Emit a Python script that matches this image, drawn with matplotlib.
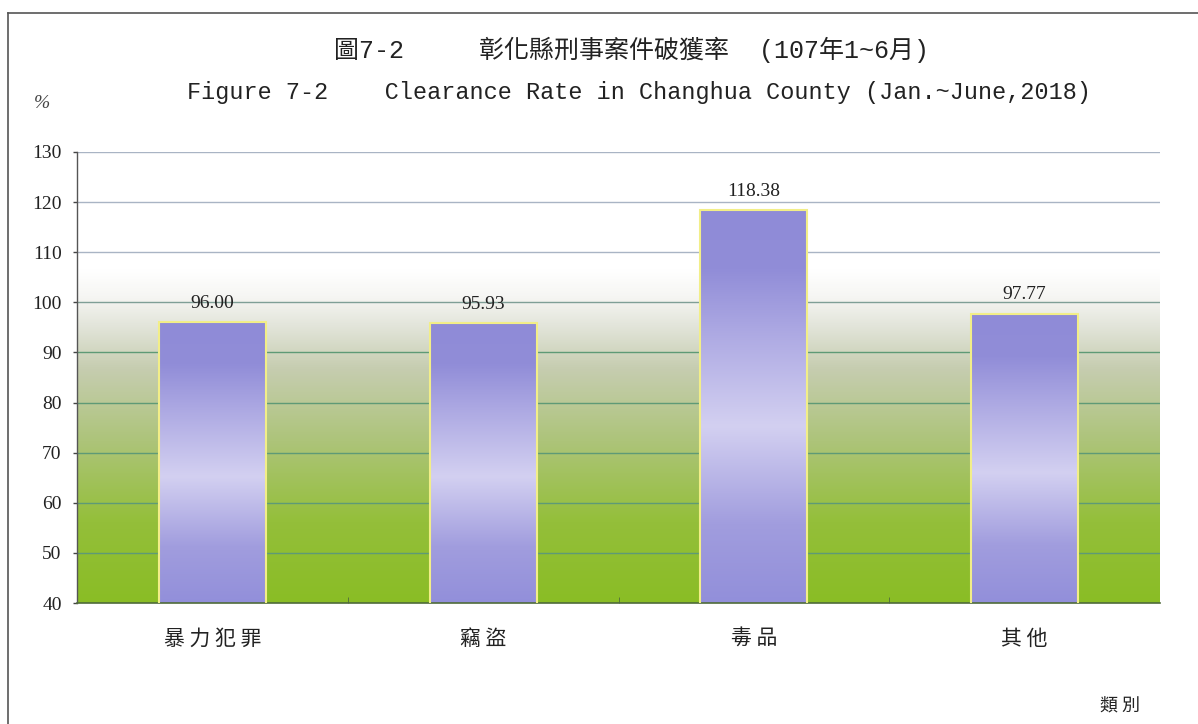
import numpy as np
import matplotlib
matplotlib.use("Agg")
import matplotlib.pyplot as plt
from matplotlib.colors import LinearSegmentedColormap

categories = ["暴力犯罪", "竊盜", "毒品", "其他"]
values = [96.00, 95.93, 118.38, 97.77]
yticks = [40, 50, 60, 70, 80, 90, 100, 110, 120, 130]

title_zh = "圖7-2     彰化縣刑事案件破獲率  (107年1~6月)"
title_en = "Figure 7-2    Clearance Rate in Changhua County (Jan.~June,2018)"

serif = ["Liberation Serif", "Noto Sans CJK TC"]
mono = ["Liberation Mono", "Noto Sans CJK TC"]
cjk = ["Noto Sans CJK TC", "DejaVu Sans"]

fig = plt.figure(figsize=(11.98, 7.24), dpi=100)
ax = fig.add_axes([77/1198, 1-603/724, (1160-77)/1198, (603-152)/724])

n = len(categories)
x = np.arange(n)
ax.set_xlim(-0.5, n - 0.5)
ax.set_ylim(40, 130)

# background gradient
bg_cmap = LinearSegmentedColormap.from_list("bg", [
    (0.0, "#8abd25"), (0.18, "#94bf3a"), (0.36, "#adc47a"), (0.52, "#c6cdb0"),
    (0.62, "#e4e6dc"), (0.68, "#f6f6f3"), (0.74, "#ffffff"), (1.0, "#ffffff")])
grad = np.linspace(0, 1, 256).reshape(-1, 1)
ax.imshow(grad, extent=[-0.5, n - 0.5, 40, 130], origin="lower",
          cmap=bg_cmap, aspect="auto", zorder=0)

for t in yticks[1:]:
    col = "#a9b4c4" if t > 100 else ("#7f9f96" if t == 100 else "#5e9a76")
    ax.axhline(t, color=col, lw=1.0, zorder=1)

bars = ax.bar(x, values, width=0.395, facecolor="none", edgecolor="#f2ee88",
              linewidth=1.5, zorder=3)

bar_cmap = LinearSegmentedColormap.from_list("bar", [
    (0.0, "#928fda"), (0.2, "#a19dde"), (0.45, "#d3d0f1"), (0.7, "#aba7e2"),
    (0.85, "#918dd8"), (1.0, "#8f8bd7")])
for b in bars:
    x0 = b.get_x(); w = b.get_width(); h = b.get_height()
    im = ax.imshow(grad, extent=[x0, x0 + w, 40, h], origin="lower",
                   cmap=bar_cmap, aspect="auto", zorder=2)
    im.set_clip_path(b)

for xi, v in zip(x, values):
    ax.text(xi, v + 2.0, f"{v:.2f}", ha="center", va="bottom", fontsize=14,
            family=serif, color="#222222", zorder=4)

ax.set_yticks(yticks)
ax.set_yticklabels([str(t) for t in yticks], family=serif, fontsize=14)
ax.set_xticks(x)
ax.set_xticklabels([" ".join(c) for c in categories], family=cjk, fontsize=15)
ax.set_xticks(np.arange(1, n) - 0.5, minor=True)
ax.tick_params(axis="y", length=3, width=1, pad=8, colors="#444444",
               labelcolor="#222222")
ax.tick_params(axis="x", which="major", length=0, pad=18, labelcolor="#222222")
ax.tick_params(axis="x", which="minor", length=4, direction="in", color="#4f6b3a")
ax.set_xlim(-0.5, n - 0.5)
ax.set_ylim(40, 130)

for s in ["top", "right"]:
    ax.spines[s].set_visible(False)
ax.spines["left"].set_color("#555555")
ax.spines["left"].set_linewidth(1.0)
ax.spines["bottom"].set_color("#4f6b3a")
ax.spines["bottom"].set_linewidth(1.2)

fig.text(632/1198, 1-50/724, title_zh, ha="center", va="center", fontsize=18,
         family=mono, color="#222222")
fig.text(639/1198, 1-92/724, title_en, ha="center", va="center", fontsize=16.9,
         family=mono, color="#222222")
fig.text(42/1198, 1-104/724, "%", ha="center", va="center", fontsize=14,
         family=serif, style="italic", color="#444444")
fig.text(1120/1198, 1-707/724, "類 別", ha="center", va="center", fontsize=13,
         family=cjk, color="#222222")

# outer frame lines
fig.add_artist(plt.Line2D([8/1198, 1], [1-13/724, 1-13/724], color="#555555", lw=1.2))
fig.add_artist(plt.Line2D([8/1198, 8/1198], [0, 1-13/724], color="#555555", lw=1.2))

fig.savefig("out.png", dpi=100)
